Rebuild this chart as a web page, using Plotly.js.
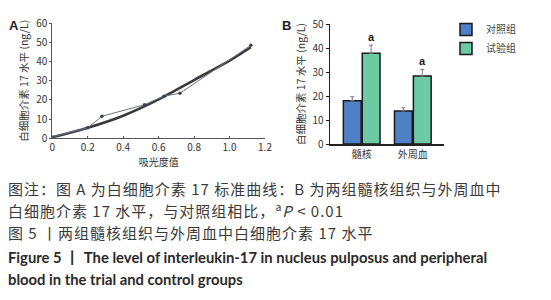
<!DOCTYPE html>
<html><head><meta charset="utf-8">
<script src="https://cdn.plot.ly/plotly-3.0.1.min.js"></script>
<style>html,body{margin:0;padding:0;background:#fff}#chart{width:551px;height:300px}</style>
</head><body><div id="chart"></div>
<script>
// Panel A: standard curve
const absorbance = [0, 0.2, 0.28, 0.52, 0.63, 0.72, 1.12];
const measured = [0.7, 5.5, 11.5, 17.5, 22, 23.5, 48.5];
const fitX = [0, 0.2, 0.4, 0.6, 0.8, 1.0, 1.12];
const fitY = [0.5, 5.5, 11.8, 20.3, 30.4, 40.5, 47.5];
const xTicksA = [0, 0.2, 0.4, 0.6, 0.8, 1.0, 1.2];
const xTickTextA = ['0', '0.2', '0.4', '0.6', '0.8', '1.0', '1.2'];
// Panel B: group comparison
const categories = ['髓核', '外周血'];
const controlVals = [18, 13.8];
const controlErr = [1.7, 1.3];
const trialVals = [37.8, 28.3];
const trialErr = [3.4, 2.8];
const seriesNames = ['对照组', '试验组'];

const cjk = '"Noto Sans CJK SC", "Noto Sans", sans-serif';
const tickFont = {family: cjk, size: 10, color: '#333'};
const axisCol = '#555';

const traces = [
  {x: fitX, y: fitY, type: 'scatter', mode: 'lines', line: {color: '#3a3a3a', width: 2.6, shape: 'spline'}, xaxis: 'x', yaxis: 'y', showlegend: false, hoverinfo: 'skip'},
  {x: absorbance, y: measured, type: 'scatter', mode: 'lines+markers', line: {color: '#6a7288', width: 1}, marker: {size: 3.5, color: '#3b4257'}, xaxis: 'x', yaxis: 'y', showlegend: false},
  {x: categories, y: controlVals, name: seriesNames[0], type: 'bar', xaxis: 'x2', yaxis: 'y2',
   marker: {color: '#4f80c6', line: {color: '#1a1a1a', width: 1.5}},
   error_y: {type: 'data', array: controlErr, symmetric: false, arrayminus: [0, 0], color: '#777', thickness: 1, width: 2}},
  {x: categories, y: trialVals, name: seriesNames[1], type: 'bar', xaxis: 'x2', yaxis: 'y2',
   marker: {color: '#6dcaa5', line: {color: '#1a1a1a', width: 1.5}},
   error_y: {type: 'data', array: trialErr, symmetric: false, arrayminus: [0, 0], color: '#777', thickness: 1, width: 2}}
];

const capFont = {family: cjk, size: 15, color: '#3a3a3a'};
const enFont = {family: 'Lato, "Liberation Sans", sans-serif', size: 14.8, color: '#2a2a2a', weight: 'bold'};

const ann = [
  {text: '<b>A</b>', x: 14, y: 25, showarrow: false, xanchor: 'center', font: {family: 'Liberation Sans', size: 13, color: '#222'}},
  {text: '<b>B</b>', x: 286, y: 25, showarrow: false, xanchor: 'center', font: {family: 'Liberation Sans', size: 13, color: '#222'}},
  {text: 'a', x: 0.185, y: trialVals[0] + trialErr[0], xref: 'x2', yref: 'y2', yshift: 8, showarrow: false, font: {family: 'Liberation Sans', size: 11, color: '#222', weight: 'bold'}},
  {text: 'a', x: 1.185, y: trialVals[1] + trialErr[1], xref: 'x2', yref: 'y2', yshift: 8, showarrow: false, font: {family: 'Liberation Sans', size: 11, color: '#222', weight: 'bold'}},
  {text: '图注：图 A 为白细胞介素 17 标准曲线：B 为两组髓核组织与外周血中', x: 7, y: 188, showarrow: false, xanchor: 'left', font: capFont},
  {text: '白细胞介素 17 水平，与对照组相比，<sup>a</sup><i>P</i> < 0.01', x: 7, y: 210, showarrow: false, xanchor: 'left', font: capFont},
  {text: '图 5 丨两组髓核组织与外周血中白细胞介素 17 水平', x: 7, y: 232, showarrow: false, xanchor: 'left', font: capFont},
  {text: 'Figure 5 丨 The level of interleukin-17 in nucleus pulposus and peripheral', x: 7, y: 257, showarrow: false, xanchor: 'left', font: enFont},
  {text: 'blood in the trial and control groups', x: 7, y: 279, showarrow: false, xanchor: 'left', font: enFont}
];
const spacedIdx = ['4', '5', '6'];
// convert pixel positions for paper-ref annotations
ann.forEach(a => {
  a.borderpad = 0;
  if (a.xref !== 'x2') { a.xref = 'paper'; a.yref = 'paper'; a.x = a.x / 551; a.y = 1 - a.y / 300; a.yanchor = 'middle'; }
});

const layout = {
  width: 551, height: 300,
  margin: {l: 0, r: 0, t: 0, b: 0},
  paper_bgcolor: '#fff', plot_bgcolor: 'rgba(0,0,0,0)',
  showlegend: true,
  legend: {x: 446 / 551, y: 1 - 15 / 300, xanchor: 'left', yanchor: 'top', font: {family: cjk, size: 10, color: '#444'}, tracegroupgap: 2, bgcolor: 'rgba(0,0,0,0)'},
  barmode: 'group', bargap: 0.26, bargroupgap: 0.06,
  xaxis: {domain: [52.3 / 551, 265 / 551], range: [0, 1.2], tickvals: xTicksA, ticktext: xTickTextA, showgrid: false, zeroline: false,
    showline: true, linecolor: axisCol, linewidth: 1, ticks: 'inside', ticklen: 2, tickcolor: axisCol, tickfont: tickFont,
    title: {text: '吸光度值', font: {family: cjk, size: 10, color: '#333'}, standoff: 2}, anchor: 'y'},
  yaxis: {domain: [1 - 138.3 / 300, 1 - 23.3 / 300], range: [0, 60], dtick: 10, showgrid: false, zeroline: false,
    showline: true, linecolor: axisCol, linewidth: 1, ticks: 'outside', ticklen: 2, tickcolor: axisCol, tickfont: tickFont,
    title: {text: '白细胞介素 17 水平 (ng/L)', font: {family: cjk, size: 10.5, color: '#333'}, standoff: 5}, anchor: 'x'},
  xaxis2: {domain: [330 / 551, 444 / 551], range: [-0.62, 1.61], type: 'category', showgrid: false, zeroline: false,
    showline: true, linecolor: '#222', linewidth: 1.5, ticks: '', tickfont: tickFont, anchor: 'y2'},
  yaxis2: {domain: [1 - 144 / 300, 1 - 24 / 300], range: [0, 50], dtick: 10, showgrid: false, zeroline: false,
    showline: true, linecolor: '#222', linewidth: 1.5, ticks: 'outside', ticklen: 3, tickcolor: '#222', tickfont: tickFont,
    title: {text: '白细胞介素 17 水平 (ng/L)', font: {family: cjk, size: 10.5, color: '#333'}, standoff: 4}, anchor: 'x2'},
  annotations: ann
};

Plotly.newPlot('chart', traces, layout, {staticPlot: true, displayModeBar: false}).then(() => {
  document.querySelectorAll('#chart g.annotation').forEach(g => {
    if (spacedIdx.includes(g.getAttribute('data-index'))) {
      g.querySelectorAll('text').forEach(t => {
        const x0 = t.getBBox().x;
        t.style.letterSpacing = '1px';
        const x1 = t.getBBox().x;
        t.setAttribute('transform', 'translate(' + (x0 - x1) + ',0)');
      });
    }
  });
});
</script></body></html>
